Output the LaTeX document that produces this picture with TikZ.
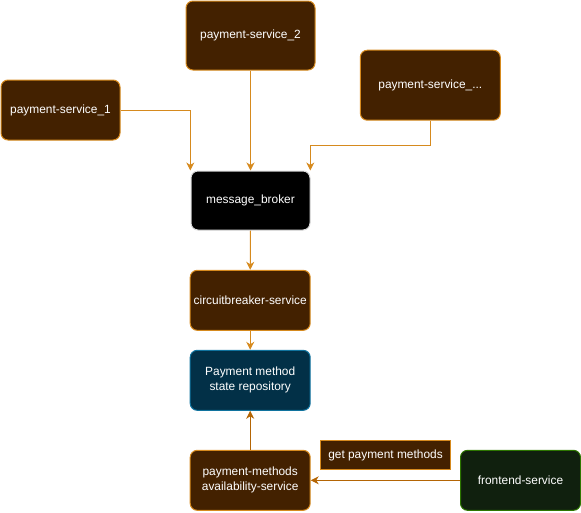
\documentclass[tikz,border=0pt]{standalone}
\usepackage{fontspec}
\setmainfont{Liberation Sans}
\usetikzlibrary{arrows.meta}
\definecolor{brownfill}{HTML}{432100}
\definecolor{orangeline}{HTML}{D68A1E}
\definecolor{darkorange}{HTML}{B46504}
\definecolor{repofill}{HTML}{023047}
\definecolor{repoline}{HTML}{10739E}
\definecolor{greenfill}{HTML}{10200E}
\definecolor{greenline}{HTML}{2D7600}
\begin{document}
\begin{tikzpicture}[x=1pt,y=-1pt,
  box/.style={draw=orangeline, fill=brownfill, line width=1pt, rounded corners=7pt,
    text=white, font=\fontsize{11.9}{15}\selectfont, align=center, inner sep=0pt},
  conn/.style={draw=orangeline, line width=1pt, -{Stealth[length=8pt,width=8pt,inset=2.5pt]}},
  conn2/.style={draw=darkorange, line width=1pt, -{Stealth[length=8pt,width=8pt,inset=2.5pt]}}]
\useasboundingbox (0,0) rectangle (581,512);
\node[box, minimum width=129pt, minimum height=69pt] (ps2) at (250.5,35.5) {payment-service\_2};
\node[box, minimum width=119pt, minimum height=60pt] (ps1) at (60.5,110) {payment-service\_1};
\node[box, minimum width=140pt, minimum height=70pt] (psx) at (430.3,85.2) {payment-service\_...};
\node[box, draw=white!85!black, fill=black, minimum width=119pt, minimum height=59pt] (mb) at (250.5,200.5) {message\_broker};
\node[box, minimum width=120pt, minimum height=60pt] (cb) at (250.2,300.3) {circuitbreaker-service};
\node[box, draw=repoline, fill=repofill, minimum width=120pt, minimum height=60pt] (repo) at (250.2,380.3) {Payment method\\state repository};
\node[box, minimum width=120pt, minimum height=60pt] (avail) at (250.2,480.3) {payment-methods\\availability-service};
\node[box, rounded corners=0pt, minimum width=130pt, minimum height=29pt] (lbl) at (385.5,455.3) {get payment methods};
\node[box, draw=greenline, fill=greenfill, minimum width=120pt, minimum height=60pt] (fe) at (520.5,480.3) {frontend-service};
\coordinate (c1) at (190.3,110);
\coordinate (c2) at (310.3,145.3);
\draw[conn] (ps1.east) -- (c1) -- (c1 |- mb.north);
\draw[conn] (ps2.south) -- (mb.north);
\draw[conn] (psx.south) |- (c2) -- (c2 |- mb.north);
\draw[conn] (mb.south) -- (cb.north);
\draw[conn] (cb.south) -- (repo.north);
\draw[conn2] (avail.north) -- (repo.south);
\draw[conn2] (fe.west) -- (avail.east);
\end{tikzpicture}
\end{document}
